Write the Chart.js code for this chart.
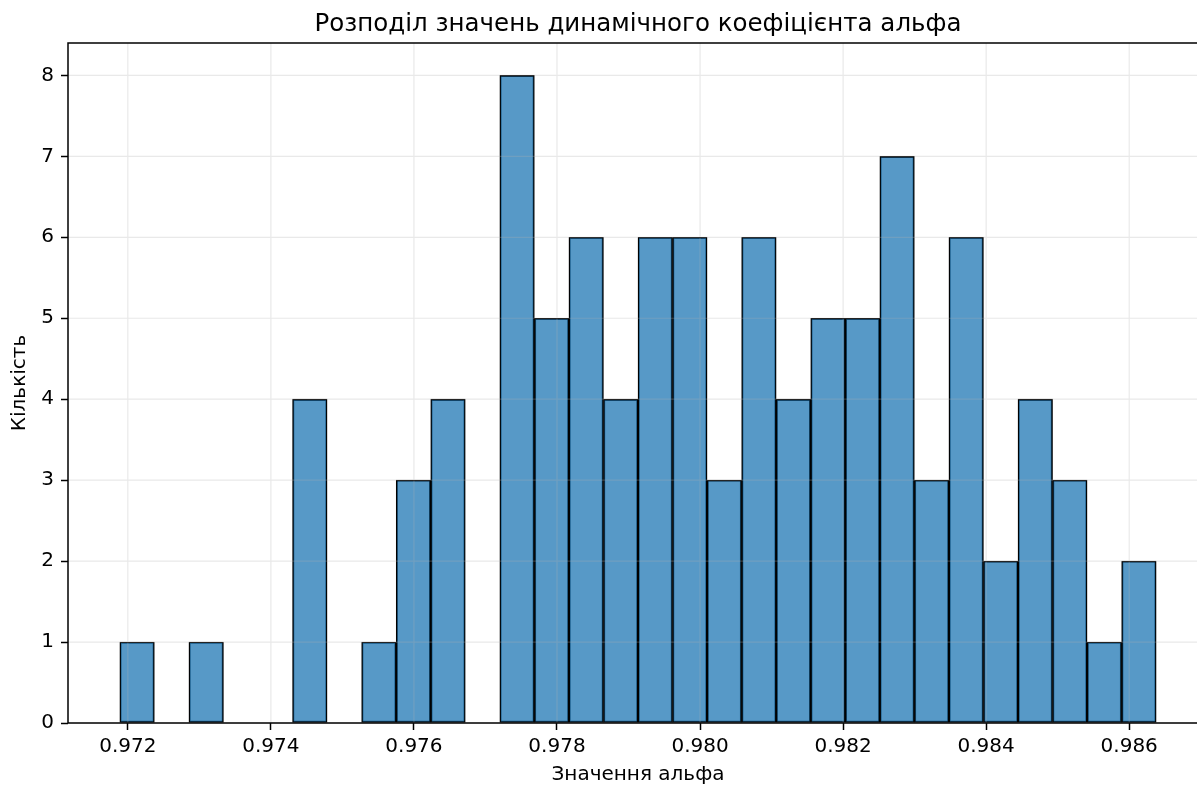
<!DOCTYPE html>
<html>
<head>
<meta charset="utf-8">
<script src="https://cdn.jsdelivr.net/npm/chart.js@4.4.0/dist/chart.umd.min.js"></script>
<style>
  html, body { margin: 0; padding: 0; background: #fff; }
  #wrap { width: 1197px; height: 787px; overflow: hidden; }
</style>
</head>
<body>
<div id="wrap"><canvas id="hist" width="1215" height="787"></canvas></div>
<script>
// histograma do coeficiente alfa (30 bins)
const binLo = 0.971888
const binHi = 0.986377
const counts = [1, 0, 1, 0, 0, 4, 0, 1, 3, 4, 0, 8, 5, 6, 4, 6, 6, 3, 6, 4, 5, 5, 7, 3, 6, 2, 4, 3, 1, 2]
const xTicks = [0.972, 0.974, 0.976, 0.978, 0.980, 0.982, 0.984, 0.986]
const yTicks = [0, 1, 2, 3, 4, 5, 6, 7, 8]
const titulo = 'Розподіл значень динамічного коефіцієнта альфа'
const tituloX = 'Значення альфа'
const tituloY = 'Кількість'

const larguraBin = (binHi - binLo) / counts.length
var pontos = []
for (var i = 0; i < counts.length; i++) {
  pontos.push({ x: binLo + larguraBin * (i + 0.5), y: counts[i] == 0 ? null : counts[i] })
}
const margem = (binHi - binLo) * 0.05

Chart.defaults.font.family = '"DejaVu Sans"'
Chart.defaults.color = '#000'

// grade por cima das barras, moldura e titulo
const moldura = {
  id: 'moldura',
  afterDatasetsDraw(chart) {
    const { ctx, chartArea: a, scales } = chart
    ctx.save()
    ctx.strokeStyle = 'rgba(176,176,176,0.28)'
    ctx.lineWidth = 1.2
    ctx.beginPath()
    for (const v of xTicks) {
      const px = scales.x.getPixelForValue(v)
      ctx.moveTo(px, a.top)
      ctx.lineTo(px, a.bottom)
    }
    for (const v of yTicks) {
      const py = scales.y.getPixelForValue(v)
      ctx.moveTo(a.left, py)
      ctx.lineTo(a.right, py)
    }
    ctx.stroke()
    ctx.strokeStyle = '#000'
    ctx.lineWidth = 1.5
    ctx.strokeRect(a.left, a.top, a.width, a.height)
    ctx.fillStyle = '#000'
    ctx.font = '24.5px "DejaVu Sans"'
    ctx.textAlign = 'center'
    ctx.textBaseline = 'alphabetic'
    ctx.fillText(titulo, (a.left + a.right) / 2, 31)
    ctx.restore()
  }
}

const grafico = new Chart(document.getElementById('hist'), {
  type: 'bar',
  data: {
    datasets: [{
      data: pontos,
      backgroundColor: 'rgba(31,119,180,0.75)',
      borderColor: '#000',
      borderWidth: 1.4,
      borderSkipped: false,
      barPercentage: 1,
      categoryPercentage: 1
    }]
  },
  options: {
    responsive: false,
    animation: false,
    layout: { padding: { top: 43, right: 7, left: 0, bottom: 0 } },
    plugins: { legend: { display: false }, tooltip: { enabled: false }, title: { display: false } },
    scales: {
      x: {
        type: 'linear',
        offset: false,
        min: binLo - margem,
        max: binHi + margem,
        afterBuildTicks: s => { s.ticks = xTicks.map(v => ({ value: v })) },
        afterFit: s => { s.height = 64 },
        ticks: { font: { size: 20 }, padding: 5, maxRotation: 0, callback: v => v.toFixed(3) },
        grid: { offset: false, drawOnChartArea: false, tickLength: 7, tickColor: '#000', tickWidth: 1.5 },
        border: { display: false },
        title: { display: true, text: tituloX, font: { size: 20 }, padding: { top: 0, bottom: 0 } }
      },
      y: {
        min: 0,
        max: 8.4,
        afterBuildTicks: s => { s.ticks = yTicks.map(v => ({ value: v })) },
        afterFit: s => { s.width = 68 },
        ticks: { font: { size: 20 }, padding: 7 },
        grid: { drawOnChartArea: false, tickLength: 7, tickColor: '#000', tickWidth: 1.5 },
        border: { display: false },
        title: { display: true, text: tituloY, font: { size: 20 }, padding: { top: 8, bottom: 0 } }
      }
    }
  },
  plugins: [moldura]
})
</script>
</body>
</html>
